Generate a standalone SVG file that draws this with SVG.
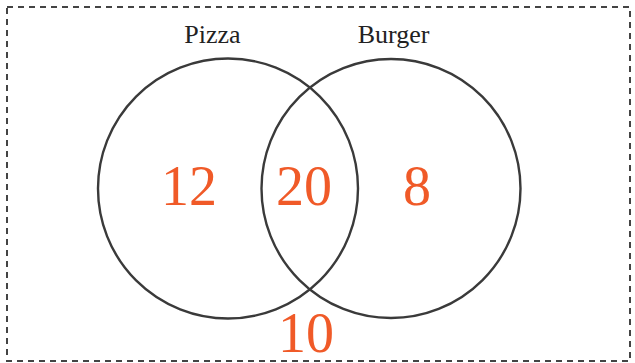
<svg xmlns="http://www.w3.org/2000/svg" width="635" height="363" viewBox="0 0 635 363">
<style>
.frame{fill:none;stroke:#444;stroke-width:2;stroke-dasharray:6 5}
.set{fill:none;stroke:#3a3a3a;stroke-width:2.4}
.lbl{font-family:"Liberation Serif",serif;font-size:26px;fill:#222;text-anchor:middle}
.num{font-family:"Liberation Serif",serif;font-size:56px;fill:#f05a28;text-anchor:middle}
</style>
<rect width="635" height="363" fill="#fff"/>
<rect class="frame" x="7" y="7" width="623" height="354"/>
<g id="pizza">
<circle class="set" cx="228" cy="188.5" r="130"/>
<text class="lbl" x="212.5" y="43">Pizza</text>
<text class="num" x="189" y="205">12</text>
</g>
<g id="burger">
<circle class="set" cx="391" cy="188.5" r="129.5"/>
<text class="lbl" x="393.5" y="43">Burger</text>
<text class="num" x="417" y="205">8</text>
</g>
<g id="both">
<text class="num" x="304" y="205">20</text>
</g>
<g id="neither">
<text class="num" x="306" y="352">10</text>
</g>
<g id="connectors"></g>
</svg>
